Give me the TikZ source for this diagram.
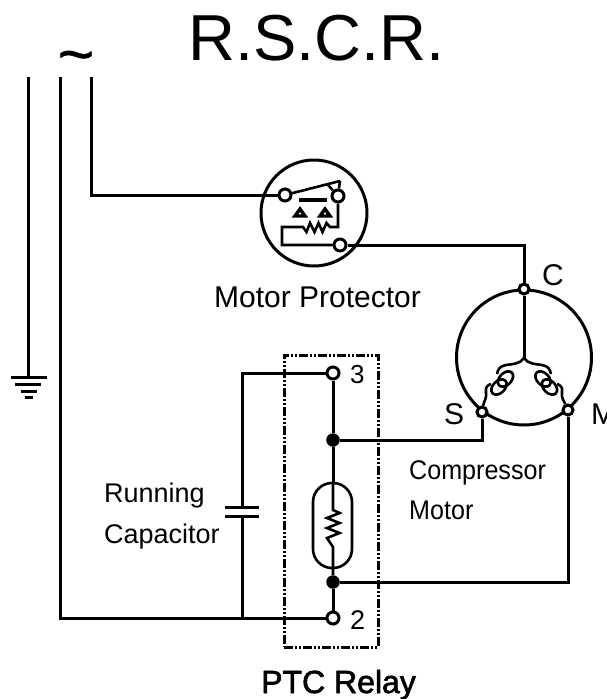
\documentclass[tikz,border=0pt]{standalone}
\usepackage{fontspec}
\setmainfont{Liberation Sans}
\newfontfamily\ptcfont[FakeBold=2]{Liberation Sans}
\newfontfamily\tildefont[FakeBold=0.8]{Liberation Sans}
\newfontfamily\narrowfont[FakeStretch=0.93]{Liberation Sans}

\tikzset{
    wire/.style={line width=3pt},
    thinwire/.style={line width=2.6pt},
    terminal/.style={circle, draw, fill=white, line width=3pt, minimum size=10pt, inner sep=0pt},
    bigterminal/.style={terminal, minimum size=12pt},
    joint/.style={circle, fill=black, minimum size=13.5pt, inner sep=0pt},
    label/.style={anchor=base west, inner sep=0pt},
    ptcframe/.style={draw, line width=3pt, dash pattern=on 9pt off 2pt on 2pt off 2pt on 2pt off 2pt}
}

\begin{document}
\begin{tikzpicture}[x=1pt, y=-1pt]

    \useasboundingbox (0, 0) rectangle (606, 699);

    % Protector and motor circles
    \draw[wire] (314, 213) circle (53);
    \draw[wire] (524, 357.5) circle (67.5);

    % Terminals
    \node[bigterminal] (protIn) at (285, 195) {};
    \node[bigterminal] (protSw) at (338, 196) {};
    \node[bigterminal] (protOut) at (340, 245) {};
    \node[terminal] (termC) at (524, 289) {};
    \node[terminal] (termS) at (482, 412) {};
    \node[terminal] (termM) at (568, 410) {};
    \node[bigterminal] (term3) at (333, 373) {};
    \node[bigterminal] (term2) at (333, 618) {};
    \node[joint] (jointS) at (333, 440) {};
    \node[joint] (jointM) at (333, 582) {};

    % Supply lines
    \coordinate (lineE) at (28, 77);
    \coordinate (lineN) at (60, 77);
    \coordinate (lineL) at (91, 77);
    \coordinate (groundTop) at (28, 377);
    \draw[wire] (lineE) -- (groundTop);
    \draw[wire] (lineL) |- (protIn);
    \draw[wire] (lineN) |- (term2);

    % Ground
    \draw[wire] (11, 377) -- (47, 377);
    \draw[wire] (15, 384) -- (41, 384);
    \draw[wire] (21, 391) -- (37, 391);
    \draw[wire] (25, 397) -- (33, 397);

    % Protector to motor
    \draw[wire] (protOut) -| (termC);

    % Protector inside
    \coordinate (armTip) at (340, 181);
    \draw[thinwire] (protIn) -- (armTip);
    \draw[thinwire] (armTip) -- (protSw);
    \draw[thinwire] (328, 185) -- (protSw);
    \draw[line width=4.5pt] (299, 200) -- (327, 200);
    \draw[line width=3.4pt] (300, 209) -- (295, 216) -- (305, 216) -- cycle;
    \draw[line width=3.4pt] (325, 209) -- (320, 216) -- (330, 216) -- cycle;
    \draw[thinwire] (protSw) |- (330, 227)
        -- (326.5, 223) -- (322.5, 232) -- (318.5, 223) -- (314.5, 232)
        -- (310, 223) -- (306.5, 232) -- (303, 227)
        -- (282, 227) |- (protOut);

    % Motor windings
    \coordinate (star) at (524, 358);
    \draw[wire] (termC) -- (star);
    \draw[thinwire] (star) .. controls (520, 364) and (513, 364) .. (506, 365)
        .. controls (500, 366) and (498, 369) .. (497, 374);
    \draw[thinwire] (491, 384) .. controls (488, 385) and (485, 387) .. (486, 392)
        .. controls (487, 398) and (484, 401) .. (termS);
    \draw[thinwire] (star) .. controls (528, 364) and (535, 364) .. (542, 365)
        .. controls (548, 366) and (550, 369) .. (551, 374);
    \draw[thinwire] (557, 384) .. controls (560, 385) and (563, 387) .. (562, 392)
        .. controls (561, 398) and (564, 401) .. (termM);
    \draw[thinwire] (505.5, 379) circle[x radius=9, y radius=6, rotate=45];
    \draw[thinwire] (499, 387) circle[x radius=9, y radius=6, rotate=45];
    \draw[thinwire] (543, 379) circle[x radius=9, y radius=6, rotate=-45];
    \draw[thinwire] (549.5, 387) circle[x radius=9, y radius=6, rotate=-45];

    % Relay to motor
    \draw[wire] (termS) |- (jointS);
    \draw[wire] (termM) |- (jointM);

    % Capacitor
    \coordinate (capTop) at (242, 507);
    \coordinate (capBot) at (242, 516);
    \coordinate (capFoot) at (242, 618);
    \draw[wire] (term3) -| (capTop);
    \draw[wire] (capBot) -- (capFoot);
    \draw[wire] (225, 507) -- (259, 507);
    \draw[wire] (225, 516) -- (259, 516);

    % PTC relay
    \node[ptcframe, minimum width=94pt, minimum height=292pt] (ptcBox) at (331, 501) {};
    \node[draw, line width=2.6pt, rounded corners=19pt, minimum width=39pt, minimum height=85pt, inner sep=0pt] (ptc) at (332.5, 525.5) {};
    \coordinate (ptcTop) at (333, 510);
    \coordinate (ptcBot) at (333, 547);
    \draw[wire] (term3) -- (jointS);
    \draw[wire] (jointS) -- (ptc.north -| jointS);
    \draw[wire] (jointM) -- (term2);
    \draw[thinwire] (ptc.north -| jointS) -- (ptcTop)
        -- (339.5, 513) -- (327, 518) -- (339.5, 523) -- (327, 528)
        -- (339.5, 533) -- (327, 538) -- (ptcBot) -- (jointM);

    % Labels
    \node[label, font=\fontsize{65}{65}\selectfont] (title) at (188, 60) {R.S.C.R.};
    \node[font=\tildefont\fontsize{62}{62}\selectfont] (tilde) at (76, 63) {\textasciitilde};
    \node[label, font=\fontsize{30}{30}\selectfont] (protName) at (214, 307) {Motor Protector};
    \node[label, font=\fontsize{30}{30}\selectfont] (labelC) at (542, 285) {C};
    \node[label, font=\fontsize{30}{30}\selectfont] (labelS) at (444, 424) {S};
    \node[label, font=\fontsize{30}{30}\selectfont] (labelM) at (591, 424) {M};
    \node[label, font=\fontsize{26}{26}\selectfont] (label3) at (350, 383) {3};
    \node[label, font=\fontsize{27}{27}\selectfont] (label2) at (350, 629) {2};
    \node[label, font=\fontsize{27}{27}\selectfont] (capName1) at (104, 502) {Running};
    \node[label, font=\fontsize{27}{27}\selectfont] (capName2) at (104, 543) {Capacitor};
    \node[label, font=\narrowfont\fontsize{27}{27}\selectfont] (motName1) at (409, 479) {Compressor};
    \node[label, font=\narrowfont\fontsize{27}{27}\selectfont] (motName2) at (409, 519) {Motor};
    \node[label, font=\ptcfont\fontsize{32}{32}\selectfont] (ptcName) at (261, 693) {PTC Relay};

\end{tikzpicture}
\end{document}
